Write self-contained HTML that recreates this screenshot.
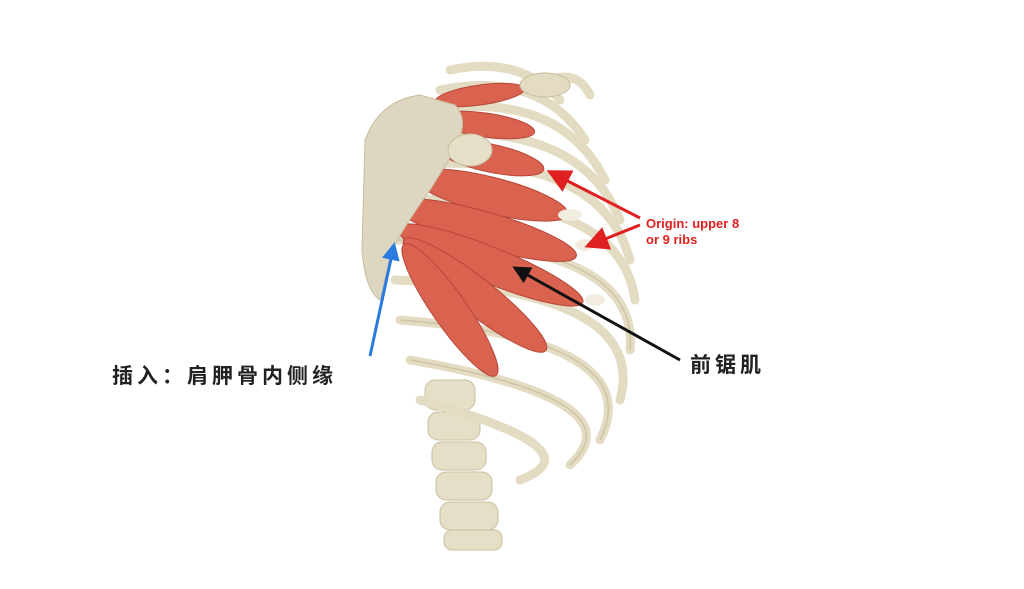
<!DOCTYPE html>
<html><head><meta charset="utf-8"><style>
html,body{margin:0;padding:0;background:#fff;width:1024px;height:589px;overflow:hidden}
svg{display:block}
.t{font-family:"Liberation Sans","Noto Sans CJK SC",sans-serif;}
</style></head><body>
<svg width="1024" height="589" viewBox="0 0 1024 589" xmlns="http://www.w3.org/2000/svg">
<defs>
<marker id="mr" markerWidth="8" markerHeight="8" refX="6" refY="4" orient="auto" markerUnits="strokeWidth"><path d="M0,0 L8,4 L0,8 z" fill="#e02020"/></marker>
<marker id="mb" markerWidth="6" markerHeight="6" refX="5" refY="3" orient="auto" markerUnits="strokeWidth"><path d="M0,0 L6,3 L0,6 z" fill="#2a7be0"/></marker>
<marker id="mk" markerWidth="6" markerHeight="6" refX="5" refY="3" orient="auto" markerUnits="strokeWidth"><path d="M0,0 L6,3 L0,6 z" fill="#111"/></marker>
</defs>
<g fill="#e6dfc8" stroke="#c9bf9f" stroke-width="1">
<rect x="425" y="380" width="50" height="30" rx="10"/>
<rect x="428" y="412" width="52" height="28" rx="10"/>
<rect x="432" y="442" width="54" height="28" rx="10"/>
<rect x="436" y="472" width="56" height="28" rx="10"/>
<rect x="440" y="502" width="58" height="28" rx="10"/>
<rect x="444" y="530" width="58" height="20" rx="8"/>
</g>
<g fill="none" stroke="#e3dcc3" stroke-width="9" stroke-linecap="round">
<path d="M450 70 Q520 55 560 100"/>
<path d="M440 90 Q540 70 585 140"/>
<path d="M430 110 Q560 90 605 180"/>
<path d="M420 135 Q580 120 620 220"/>
<path d="M410 165 Q600 150 630 260"/>
<path d="M400 200 Q620 190 635 300"/>
<path d="M395 240 Q640 240 630 350"/>
<path d="M395 280 Q650 290 620 400"/>
<path d="M400 320 Q650 340 600 440"/>
<path d="M410 360 Q640 400 570 465"/>
<path d="M420 400 Q600 450 520 480"/>
<path d="M540 85 Q575 65 590 95"/>
</g>
<g fill="none" stroke="#cfc5a6" stroke-width="1.5">
<path d="M395 240 Q640 240 630 350"/>
<path d="M400 320 Q650 340 600 440"/>
<path d="M410 360 Q640 400 570 465"/>
</g>
<g fill="#d9634f" stroke="#b8463a" stroke-width="1">
<ellipse cx="480" cy="95" rx="45" ry="10" transform="rotate(-8 480 95)"/>
<ellipse cx="485" cy="125" rx="50" ry="12" transform="rotate(8 485 125)"/>
<ellipse cx="490" cy="158" rx="55" ry="14" transform="rotate(12 490 158)"/>
<ellipse cx="490" cy="195" rx="80" ry="18" transform="rotate(14 490 195)"/>
<ellipse cx="485" cy="230" rx="95" ry="18" transform="rotate(16 485 230)"/>
<ellipse cx="490" cy="265" rx="100" ry="18" transform="rotate(22 490 265)"/>
<ellipse cx="475" cy="295" rx="90" ry="18" transform="rotate(38 475 295)"/>
<ellipse cx="450" cy="310" rx="80" ry="17" transform="rotate(55 450 310)"/>
</g>
<g fill="#f2ede0">
<ellipse cx="560" cy="175" rx="10" ry="5"/>
<ellipse cx="570" cy="215" rx="12" ry="6"/>
<ellipse cx="585" cy="245" rx="10" ry="6"/>
<ellipse cx="595" cy="300" rx="10" ry="6"/>
</g>
<path d="M365 140 Q380 100 420 95 L455 105 Q470 120 455 150 L430 190 Q405 225 392 250 L380 300 Q365 290 362 250 Z" fill="#ddd6c0" stroke="#c7bd9e" stroke-width="1"/>
<ellipse cx="470" cy="150" rx="22" ry="16" fill="#e6dfc8" stroke="#c7bd9e"/>
<ellipse cx="545" cy="85" rx="25" ry="12" fill="#e3dcc3" stroke="#c7bd9e"/>
<g stroke-width="3" fill="none">
<line x1="640" y1="218" x2="552" y2="173" stroke="#e02020" marker-end="url(#mr)"/>
<line x1="640" y1="225" x2="590" y2="245" stroke="#e02020" marker-end="url(#mr)"/>
<line x1="370" y1="356" x2="394" y2="245" stroke="#2a7be0" marker-end="url(#mb)"/>
<line x1="680" y1="360" x2="515" y2="268" stroke="#111" marker-end="url(#mk)"/>
</g>
<text class="t" x="646" y="228" font-size="13" font-weight="bold" fill="#e02020">Origin: upper 8</text>
<text class="t" x="646" y="244" font-size="13" font-weight="bold" fill="#e02020">or 9 ribs</text>
<text class="t" x="112" y="383" font-size="21" font-weight="bold" fill="#222" letter-spacing="4">插入：肩胛骨内侧缘</text>
<text class="t" x="690" y="372" font-size="21" font-weight="bold" fill="#222" letter-spacing="4">前锯肌</text>
</svg>
</body></html>
